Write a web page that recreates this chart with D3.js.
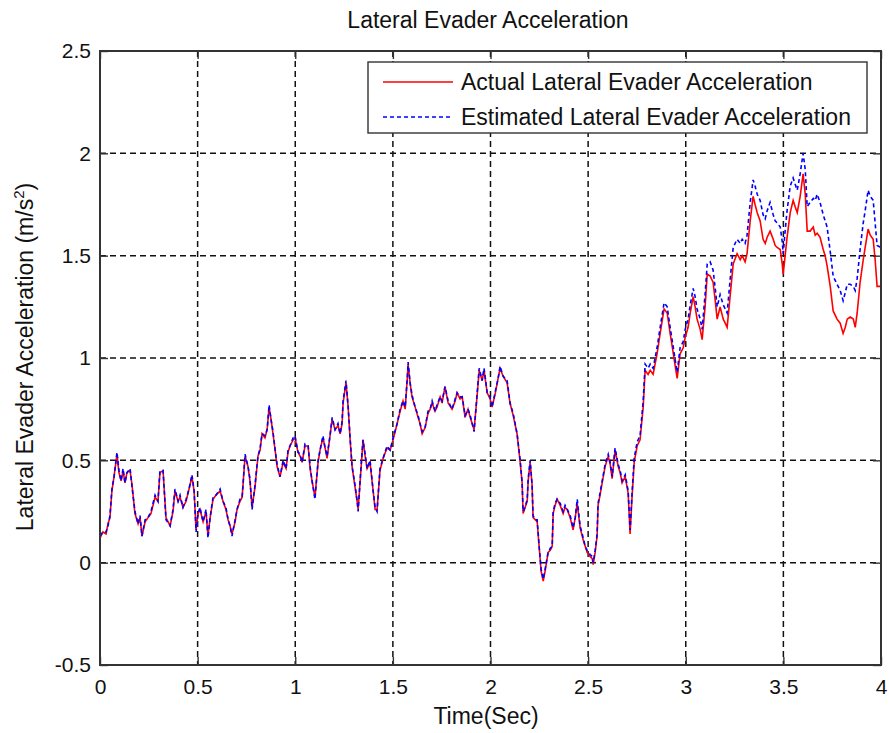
<!DOCTYPE html>
<html>
<head>
<meta charset="utf-8">
<script src="https://cdn.jsdelivr.net/npm/d3@7"></script>
<style>
  body { margin: 0; background: #fff; }
  text { font-family: "Liberation Sans", Arial, sans-serif; fill: #111; }
</style>
</head>
<body>
<div class="render"></div>
<script>
'use strict';

var time = [
  0, 0.015, 0.031, 0.041, 0.051, 0.061, 0.072, 0.087, 0.097, 0.108,
  0.118, 0.128, 0.138, 0.154, 0.164, 0.179, 0.195, 0.205, 0.215, 0.231,
  0.246, 0.261, 0.282, 0.297, 0.307, 0.323, 0.338, 0.359, 0.374, 0.384,
  0.400, 0.410, 0.425, 0.441, 0.456, 0.471, 0.482, 0.492, 0.502, 0.512,
  0.528, 0.543, 0.553, 0.564, 0.579, 0.594, 0.615, 0.630, 0.645, 0.656,
  0.666, 0.676, 0.692, 0.702, 0.717, 0.728, 0.743, 0.758, 0.768, 0.779,
  0.794, 0.809, 0.820, 0.830, 0.845, 0.856, 0.866, 0.876, 0.886, 0.897,
  0.907, 0.922, 0.938, 0.953, 0.963, 0.973, 0.989, 0.999, 1.014, 1.025,
  1.035, 1.050, 1.066, 1.076, 1.086, 1.101, 1.117, 1.127, 1.142, 1.153,
  1.163, 1.178, 1.189, 1.204, 1.219, 1.230, 1.240, 1.245, 1.260, 1.271,
  1.281, 1.291, 1.306, 1.317, 1.322, 1.337, 1.347, 1.358, 1.368, 1.383,
  1.399, 1.409, 1.419, 1.434, 1.450, 1.470, 1.486, 1.501, 1.522, 1.537,
  1.552, 1.563, 1.573, 1.578, 1.588, 1.598, 1.614, 1.629, 1.639, 1.650,
  1.665, 1.680, 1.691, 1.701, 1.716, 1.726, 1.742, 1.752, 1.767, 1.783,
  1.803, 1.819, 1.829, 1.844, 1.855, 1.870, 1.885, 1.896, 1.916, 1.931,
  1.942, 1.957, 1.967, 1.983, 1.998, 2.008, 2.023, 2.039, 2.049, 2.065,
  2.085, 2.100, 2.116, 2.136, 2.152, 2.162, 2.167, 2.177, 2.188, 2.193,
  2.203, 2.213, 2.218, 2.229, 2.239, 2.249, 2.259, 2.270, 2.280, 2.295,
  2.306, 2.316, 2.321, 2.331, 2.341, 2.357, 2.372, 2.382, 2.393, 2.408,
  2.423, 2.434, 2.444, 2.459, 2.475, 2.485, 2.495, 2.510, 2.521, 2.526,
  2.536, 2.546, 2.551, 2.561, 2.572, 2.587, 2.603, 2.613, 2.623, 2.638,
  2.654, 2.664, 2.674, 2.690, 2.705, 2.715, 2.725, 2.736, 2.751, 2.766,
  2.782, 2.792, 2.807, 2.818, 2.833, 2.853, 2.869, 2.879, 2.889, 2.905,
  2.920, 2.930, 2.946, 2.956, 2.971, 2.987, 2.997, 3.012, 3.023, 3.038,
  3.048, 3.058, 3.074, 3.084, 3.099, 3.110, 3.125, 3.140, 3.151, 3.161,
  3.176, 3.192, 3.202, 3.212, 3.227, 3.243, 3.263, 3.279, 3.289, 3.304,
  3.314, 3.330, 3.345, 3.355, 3.366, 3.381, 3.396, 3.407, 3.417, 3.432,
  3.448, 3.458, 3.468, 3.484, 3.494, 3.499, 3.509, 3.519, 3.535, 3.550,
  3.560, 3.571, 3.586, 3.601, 3.612, 3.622, 3.637, 3.653, 3.663, 3.673,
  3.688, 3.704, 3.714, 3.724, 3.740, 3.755, 3.775, 3.791, 3.806, 3.817,
  3.827, 3.842, 3.858, 3.868, 3.878, 3.893, 3.909, 3.919, 3.934, 3.945,
  3.960, 3.970, 3.980, 4.000
];

var actual = [
  0.12, 0.15, 0.14, 0.19, 0.22, 0.35, 0.42, 0.53, 0.44, 0.40,
  0.45, 0.39, 0.44, 0.45, 0.38, 0.24, 0.19, 0.22, 0.13, 0.20,
  0.22, 0.24, 0.32, 0.30, 0.44, 0.45, 0.22, 0.18, 0.25, 0.35,
  0.30, 0.32, 0.27, 0.30, 0.36, 0.42, 0.35, 0.16, 0.24, 0.26,
  0.20, 0.25, 0.13, 0.22, 0.31, 0.33, 0.35, 0.30, 0.26, 0.21,
  0.18, 0.14, 0.20, 0.26, 0.30, 0.32, 0.52, 0.47, 0.40, 0.27,
  0.37, 0.52, 0.55, 0.63, 0.61, 0.65, 0.76, 0.70, 0.63, 0.55,
  0.47, 0.42, 0.49, 0.46, 0.54, 0.57, 0.60, 0.61, 0.54, 0.52,
  0.49, 0.57, 0.57, 0.46, 0.40, 0.32, 0.49, 0.55, 0.61, 0.56,
  0.51, 0.62, 0.70, 0.65, 0.67, 0.63, 0.68, 0.78, 0.88, 0.76,
  0.60, 0.47, 0.37, 0.30, 0.26, 0.46, 0.60, 0.52, 0.46, 0.49,
  0.35, 0.26, 0.26, 0.45, 0.51, 0.56, 0.55, 0.60, 0.68, 0.74,
  0.79, 0.75, 0.89, 0.97, 0.88, 0.81, 0.76, 0.71, 0.68, 0.63,
  0.66, 0.73, 0.75, 0.78, 0.74, 0.76, 0.81, 0.78, 0.86, 0.78,
  0.75, 0.79, 0.83, 0.80, 0.81, 0.71, 0.75, 0.71, 0.65, 0.81,
  0.94, 0.89, 0.94, 0.83, 0.80, 0.76, 0.82, 0.90, 0.95, 0.91,
  0.88, 0.78, 0.72, 0.63, 0.49, 0.39, 0.24, 0.27, 0.30, 0.40,
  0.49, 0.38, 0.22, 0.21, 0.20, 0.08, -0.04, -0.09, -0.04, 0.05,
  0.06, 0.08, 0.24, 0.28, 0.31, 0.28, 0.24, 0.27, 0.26, 0.22,
  0.16, 0.22, 0.29, 0.17, 0.11, 0.08, 0.05, 0.03, 0.02, -0.01,
  0.05, 0.13, 0.28, 0.33, 0.39, 0.47, 0.52, 0.48, 0.41, 0.55,
  0.47, 0.44, 0.39, 0.42, 0.34, 0.14, 0.32, 0.49, 0.57, 0.60,
  0.76, 0.94, 0.92, 0.94, 0.92, 1.02, 1.12, 1.18, 1.24, 1.22,
  1.12, 1.06, 0.96, 0.90, 1.02, 1.05, 1.10, 1.15, 1.22, 1.30,
  1.25, 1.19, 1.14, 1.09, 1.25, 1.41, 1.40, 1.37, 1.28, 1.19,
  1.25, 1.19, 1.17, 1.15, 1.30, 1.46, 1.51, 1.48, 1.50, 1.47,
  1.51, 1.67, 1.79, 1.75, 1.71, 1.67, 1.58, 1.56, 1.59, 1.62,
  1.58, 1.55, 1.54, 1.53, 1.46, 1.41, 1.50, 1.59, 1.71, 1.77,
  1.74, 1.71, 1.79, 1.90, 1.80, 1.62, 1.62, 1.64, 1.60, 1.61,
  1.59, 1.53, 1.50, 1.45, 1.35, 1.23, 1.19, 1.17, 1.12, 1.15,
  1.19, 1.20, 1.19, 1.15, 1.22, 1.37, 1.48, 1.54, 1.63, 1.60,
  1.58, 1.48, 1.35, 1.35
];

var estimated = [
  0.13, 0.15, 0.15, 0.18, 0.23, 0.36, 0.42, 0.54, 0.45, 0.40,
  0.46, 0.39, 0.44, 0.46, 0.37, 0.25, 0.19, 0.23, 0.13, 0.21,
  0.22, 0.25, 0.33, 0.30, 0.45, 0.45, 0.21, 0.18, 0.26, 0.36,
  0.30, 0.33, 0.27, 0.31, 0.36, 0.43, 0.35, 0.15, 0.24, 0.27,
  0.20, 0.26, 0.12, 0.22, 0.32, 0.33, 0.36, 0.30, 0.27, 0.21,
  0.18, 0.13, 0.21, 0.26, 0.31, 0.32, 0.53, 0.47, 0.41, 0.26,
  0.38, 0.52, 0.56, 0.63, 0.62, 0.65, 0.77, 0.70, 0.64, 0.55,
  0.48, 0.42, 0.50, 0.46, 0.55, 0.57, 0.61, 0.62, 0.54, 0.53,
  0.49, 0.58, 0.57, 0.47, 0.40, 0.31, 0.50, 0.55, 0.62, 0.56,
  0.52, 0.62, 0.71, 0.65, 0.68, 0.63, 0.69, 0.79, 0.89, 0.76,
  0.61, 0.47, 0.38, 0.30, 0.25, 0.47, 0.60, 0.53, 0.46, 0.50,
  0.35, 0.27, 0.25, 0.46, 0.51, 0.57, 0.55, 0.61, 0.68, 0.75,
  0.79, 0.76, 0.89, 0.98, 0.88, 0.82, 0.76, 0.72, 0.68, 0.64,
  0.66, 0.74, 0.75, 0.79, 0.74, 0.77, 0.81, 0.79, 0.86, 0.79,
  0.75, 0.80, 0.83, 0.81, 0.81, 0.72, 0.75, 0.72, 0.64, 0.82,
  0.95, 0.89, 0.95, 0.83, 0.81, 0.76, 0.83, 0.90, 0.96, 0.91,
  0.89, 0.78, 0.73, 0.63, 0.50, 0.39, 0.25, 0.27, 0.31, 0.41,
  0.50, 0.38, 0.23, 0.21, 0.21, 0.08, -0.03, -0.08, -0.03, 0.05,
  0.07, 0.08, 0.25, 0.29, 0.31, 0.29, 0.25, 0.28, 0.26, 0.23,
  0.17, 0.22, 0.31, 0.18, 0.12, 0.08, 0.06, 0.04, 0.03, 0.00,
  0.06, 0.14, 0.29, 0.34, 0.40, 0.48, 0.53, 0.49, 0.42, 0.56,
  0.48, 0.45, 0.40, 0.43, 0.35, 0.16, 0.34, 0.51, 0.59, 0.62,
  0.79, 0.97, 0.95, 0.97, 0.95, 1.05, 1.15, 1.21, 1.27, 1.25,
  1.15, 1.09, 0.99, 0.93, 1.05, 1.08, 1.14, 1.19, 1.26, 1.34,
  1.30, 1.24, 1.19, 1.14, 1.31, 1.46, 1.47, 1.43, 1.34, 1.25,
  1.31, 1.26, 1.24, 1.22, 1.38, 1.54, 1.58, 1.56, 1.58, 1.56,
  1.60, 1.76, 1.87, 1.84, 1.80, 1.77, 1.70, 1.68, 1.72, 1.76,
  1.70, 1.67, 1.66, 1.64, 1.57, 1.51, 1.62, 1.72, 1.84, 1.88,
  1.85, 1.82, 1.90, 2.00, 1.92, 1.74, 1.76, 1.78, 1.77, 1.80,
  1.76, 1.70, 1.67, 1.64, 1.52, 1.40, 1.36, 1.33, 1.28, 1.32,
  1.36, 1.36, 1.35, 1.33, 1.39, 1.53, 1.66, 1.72, 1.82, 1.79,
  1.77, 1.66, 1.55, 1.54
];

var xTicks = [0, 0.5, 1, 1.5, 2, 2.5, 3, 3.5, 4];
var yTicks = [-0.5, 0, 0.5, 1, 1.5, 2, 2.5];
var seriesNames = ['Actual Lateral Evader Acceleration', 'Estimated Lateral Evader Acceleration'];

function draw() {
   var w = 889;
   var h = 733;
   var left = 100, right = 881, top = 51, bottom = 665;

   var xScale = d3.scaleLinear().domain([0, 4]).range([left, right]);
   var yScale = d3.scaleLinear().domain([-0.5, 2.5]).range([bottom, top]);
   var fmt = function (d) { return String(d); };

   var svg = d3.select('.render').append('svg').attr('width', w).attr('height', h);

   svg.append('rect').attr('x', 0).attr('y', 0).attr('width', w).attr('height', h).attr('fill', '#fff');

   // dashed grid
   svg.append('g').selectAll('line').data(xTicks.slice(1, -1)).enter().append('line')
      .attr('x1', function (d) { return xScale(d); }).attr('x2', function (d) { return xScale(d); })
      .attr('y1', top).attr('y2', bottom)
      .attr('stroke', '#111').attr('stroke-width', 1.5).attr('stroke-dasharray', '6,4');
   svg.append('g').selectAll('line').data(yTicks.slice(1, -1)).enter().append('line')
      .attr('y1', function (d) { return yScale(d); }).attr('y2', function (d) { return yScale(d); })
      .attr('x1', left).attr('x2', right)
      .attr('stroke', '#111').attr('stroke-width', 1.5).attr('stroke-dasharray', '6,4');

   var rows = time.map(function (t, i) { return { t: t, a: actual[i], e: estimated[i] }; });

   var lineA = d3.line().x(function (d) { return xScale(d.t); }).y(function (d) { return yScale(d.a); });
   var lineE = d3.line().x(function (d) { return xScale(d.t); }).y(function (d) { return yScale(d.e); });

   svg.append('path').datum(rows).attr('d', lineA).attr('fill', 'none')
      .attr('stroke', '#ff0000').attr('stroke-width', 1.6);
   svg.append('path').datum(rows).attr('d', lineE).attr('fill', 'none')
      .attr('stroke', '#0000ff').attr('stroke-width', 1.6).attr('stroke-dasharray', '4,3');

   // axes, ticks inside on all four sides
   var xAxisB = d3.axisBottom(xScale).tickValues(xTicks).tickSizeInner(-8).tickSizeOuter(0).tickPadding(14).tickFormat(fmt);
   var xAxisT = d3.axisTop(xScale).tickValues(xTicks).tickSizeInner(-8).tickSizeOuter(0).tickFormat('');
   var yAxisL = d3.axisLeft(yScale).tickValues(yTicks).tickSizeInner(-8).tickSizeOuter(0).tickPadding(9).tickFormat(fmt);
   var yAxisR = d3.axisRight(yScale).tickValues(yTicks).tickSizeInner(-8).tickSizeOuter(0).tickFormat('');

   var gB = svg.append('g').attr('transform', 'translate(0,' + bottom + ')').call(xAxisB);
   var gT = svg.append('g').attr('transform', 'translate(0,' + top + ')').call(xAxisT);
   var gL = svg.append('g').attr('transform', 'translate(' + left + ',0)').call(yAxisL);
   var gR = svg.append('g').attr('transform', 'translate(' + right + ',0)').call(yAxisR);
   [gB, gT, gL, gR].forEach(function (g) {
      g.select('.domain').remove();
      g.selectAll('line').attr('stroke', '#333').attr('stroke-width', 1.4);
      g.selectAll('text').style('font-size', '21px').style('font-family', '"Liberation Sans", Arial, sans-serif').attr('fill', '#111');
   });

   svg.append('rect').attr('x', left).attr('y', top).attr('width', right - left).attr('height', bottom - top)
      .attr('fill', 'none').attr('stroke', '#333').attr('stroke-width', 2);

   // titles
   svg.append('text').text('Lateral Evader Acceleration').attr('x', 488).attr('y', 28)
      .style('font-size', '23px').style('text-anchor', 'middle');
   svg.append('text').text('Time(Sec)').attr('x', 486).attr('y', 724)
      .style('font-size', '23px').style('text-anchor', 'middle');
   var yl = svg.append('text').attr('transform', 'translate(33,357)rotate(-90)')
      .style('font-size', '23px').style('text-anchor', 'middle');
   yl.append('tspan').text('Lateral Evader Acceleration (m/s');
   yl.append('tspan').text('2').attr('dy', -9).style('font-size', '15px');
   yl.append('tspan').text(')').attr('dy', 9);

   // legend
   var lg = svg.append('g');
   lg.append('rect').attr('x', 368).attr('y', 62).attr('width', 499).attr('height', 71)
      .attr('fill', '#fff').attr('stroke', '#333').attr('stroke-width', 1.4);
   var legColors = ['#ff0000', '#0000ff'];
   var legDash = [null, '4,3'];
   lg.selectAll('line.leg').data(seriesNames).enter().append('line').attr('class', 'leg')
      .attr('x1', 383).attr('x2', 453)
      .attr('y1', function (d, i) { return 82 + i * 35; }).attr('y2', function (d, i) { return 82 + i * 35; })
      .attr('stroke', function (d, i) { return legColors[i]; }).attr('stroke-width', 1.6)
      .attr('stroke-dasharray', function (d, i) { return legDash[i]; });
   lg.selectAll('text.leg').data(seriesNames).enter().append('text').attr('class', 'leg')
      .text(function (d) { return d; })
      .attr('x', 461).attr('y', function (d, i) { return 90 + i * 35; })
      .style('font-size', '23px');
}

draw();
</script>
</body>
</html>
